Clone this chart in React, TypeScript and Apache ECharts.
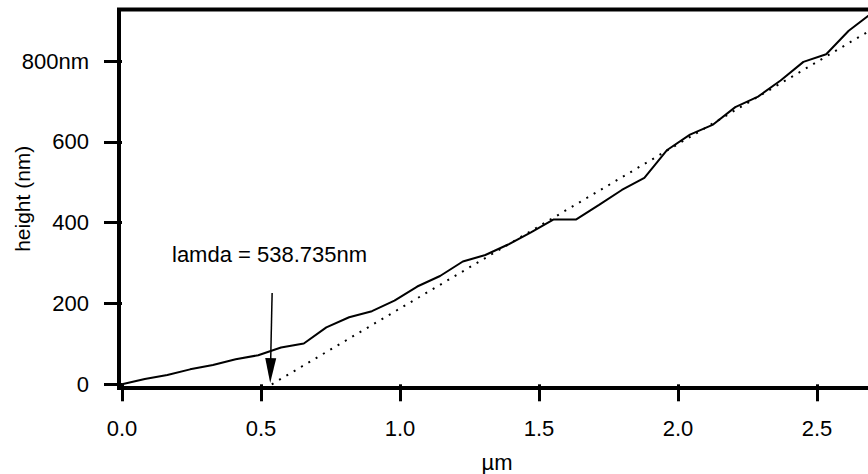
import React, { useEffect, useRef } from "react";
import * as echarts from "echarts";

// Measured profile (µm, nm)
const positionUm = [
  0.0, 0.082, 0.163, 0.245, 0.327, 0.409, 0.49, 0.572, 0.654, 0.735, 0.817,
  0.899, 0.98, 1.062, 1.144, 1.226, 1.307, 1.389, 1.471, 1.553, 1.634, 1.716,
  1.798, 1.879, 1.961, 2.043, 2.124, 2.206, 2.288, 2.369, 2.451, 2.533, 2.614,
  2.696,
];
const heightNm = [
  0, 13, 23, 37, 48, 62, 72, 91, 101, 141, 166, 181, 207, 242, 268, 304, 320,
  346, 376, 408, 408, 444, 481, 511, 580, 618, 642, 686, 712, 752, 798, 817, 875,
  918,
];

// Linear fit (dotted)
const fitX = [0.538735, 2.7086];
const fitY = [0, 883];

// Axis ticks
const xTicks = [0, 0.5, 1, 1.5, 2, 2.5];
const yTicks = [0, 200, 400, 600, 800];

// Annotation
const annotationText = "lamda = 538.735nm";
const arrowFrom = [0.54, 226];
const arrowTo = [0.534, 34];

const FONT = "'Liberation Sans', Arial, Helvetica, sans-serif";

export default function App() {
  const ref = useRef<HTMLDivElement>(null);

  useEffect(() => {
    const chart = echarts.init(ref.current!, null, { renderer: "svg" });
    const profile = positionUm.map((x, i) => [x, heightNm[i]]);
    const fit = fitX.map((x, i) => [x, fitY[i]]);

    chart.setOption({
      animation: false,
      backgroundColor: "#fff",
      textStyle: { fontFamily: FONT, color: "#000" },
      grid: {
        left: 119,
        right: -7,
        top: 9.5,
        bottom: 86,
        show: true,
        borderColor: "#000",
        borderWidth: 4,
        containLabel: false,
        outerBoundsMode: "none",
      },
      xAxis: {
        type: "value",
        min: -0.0108,
        max: 2.7086,
        name: "µm",
        nameLocation: "middle",
        nameGap: 63,
        nameMoveOverlap: false,
        nameTextStyle: { fontSize: 22, color: "#000", fontFamily: FONT },
        axisLine: { show: false },
        splitLine: { show: false },
        axisTick: {
          show: true,
          inside: false,
          length: 17,
          customValues: xTicks,
          lineStyle: { color: "#000", width: 3 },
        },
        axisLabel: {
          margin: 29,
          fontSize: 22,
          color: "#000",
          fontFamily: FONT,
          customValues: xTicks,
          formatter: (v: number) => v.toFixed(1),
        },
      },
      yAxis: {
        type: "value",
        min: -9.16,
        max: 927.7,
        name: "height (nm)",
        nameLocation: "middle",
        nameGap: 86,
        nameRotate: 90,
        nameMoveOverlap: false,
        nameTextStyle: { fontSize: 21, color: "#000", fontFamily: FONT },
        axisLine: { show: false },
        splitLine: { show: false },
        axisTick: {
          show: true,
          inside: false,
          length: 18,
          customValues: yTicks,
          lineStyle: { color: "#000", width: 3 },
        },
        axisLabel: {
          margin: 30,
          fontSize: 22,
          color: "#000",
          fontFamily: FONT,
          customValues: yTicks,
          formatter: (v: number) => (v === 800 ? "800nm" : String(v)),
        },
      },
      series: [
        {
          type: "line",
          data: profile,
          showSymbol: false,
          symbol: "none",
          lineStyle: { color: "#000", width: 2 },
          z: 3,
        },
        {
          type: "line",
          data: fit,
          showSymbol: false,
          symbol: "none",
          lineStyle: { color: "#000", width: 2, type: [2, 6.5], cap: "butt" },
          z: 2,
          markLine: {
            silent: true,
            animation: false,
            label: { show: false },
            lineStyle: { color: "#000", width: 1.5, type: "solid" },
            data: [
              [
                { coord: arrowFrom, symbol: "none" },
                { coord: arrowTo, symbol: "triangle", symbolSize: [11, 25] },
              ],
            ],
          },
        },
      ],
      graphic: [
        {
          type: "text",
          left: 172,
          top: 243,
          style: {
            text: annotationText,
            font: `22px ${FONT}`,
            fill: "#000",
          },
        },
      ],
    });

    return () => chart.dispose();
  }, []);

  return (
    <div
      ref={ref}
      style={{ position: "absolute", left: 0, top: 0, width: 868, height: 474, background: "#fff" }}
    />
  );
}
